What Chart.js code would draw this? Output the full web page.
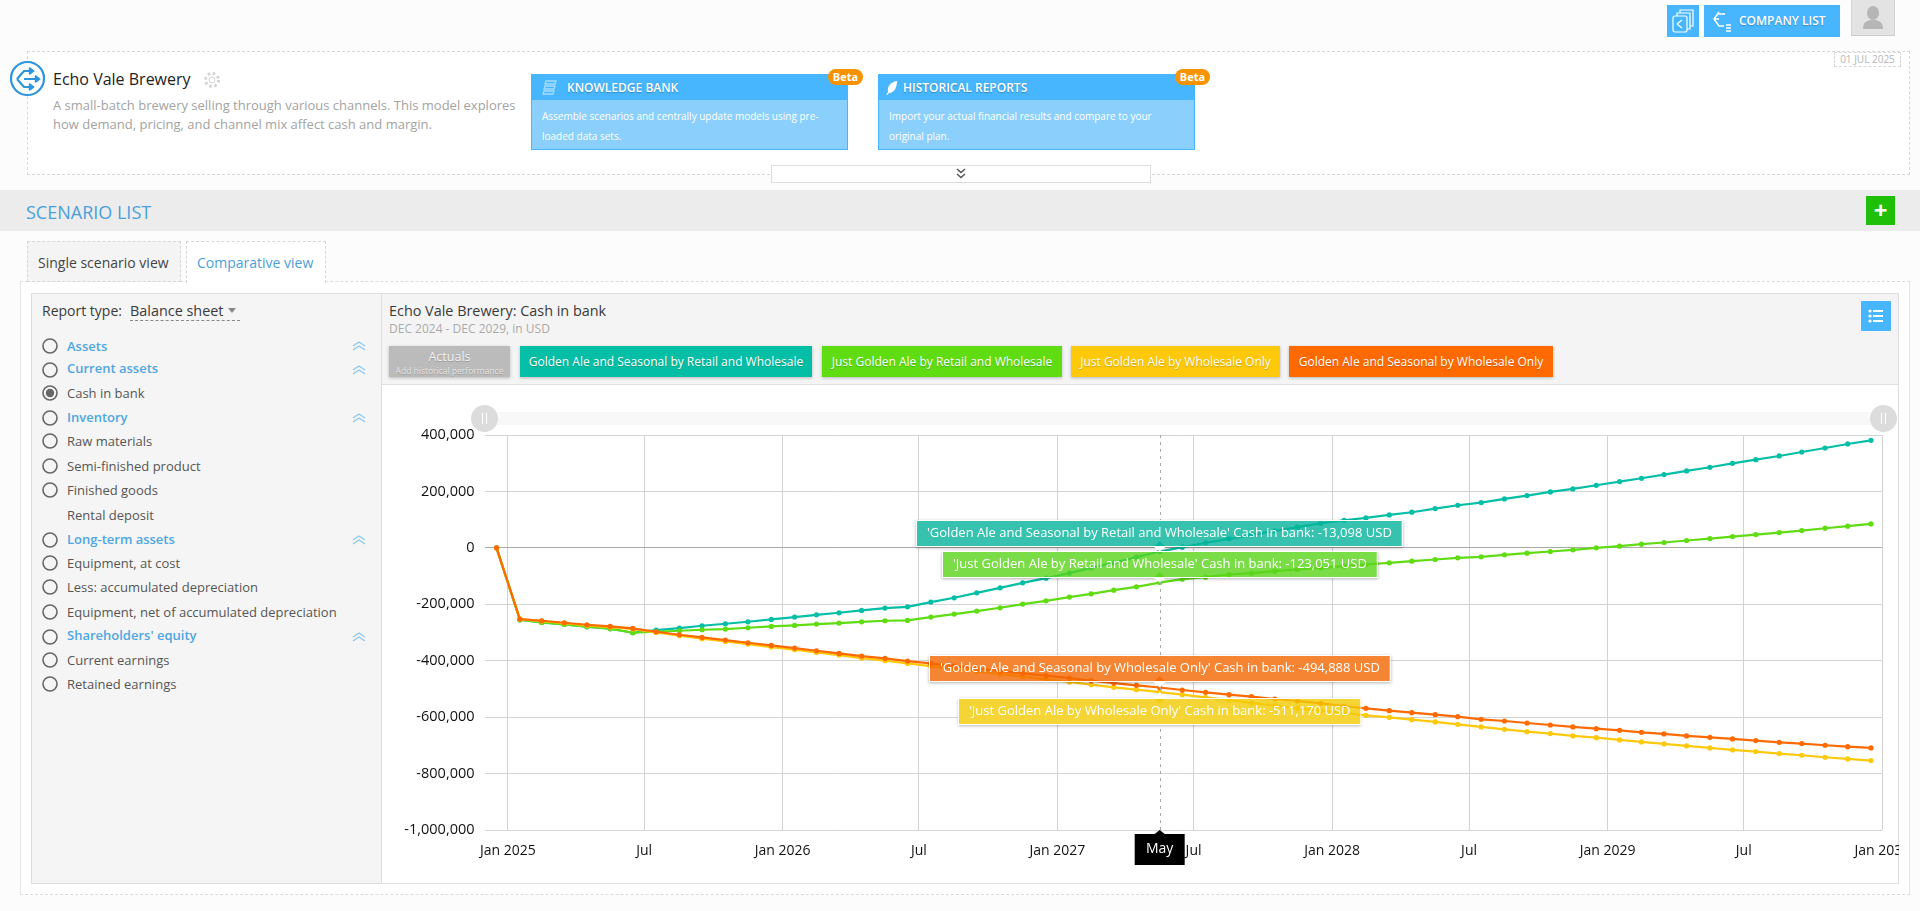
<!DOCTYPE html>
<html lang="en"><head><meta charset="utf-8"><title>Echo Vale Brewery: Cash in bank</title>
<script src="https://cdn.jsdelivr.net/npm/chart.js@4"></script>
<style>
html,body{margin:0;padding:0;width:1920px;height:911px;overflow:hidden;background:#fcfcfc;font-family:"Open Sans",sans-serif;color:#444}
.a{position:absolute;box-sizing:border-box;white-space:nowrap}
.t{position:absolute;white-space:nowrap}
.shadow{text-shadow:0 1px 1px rgba(0,0,0,.25)}
.lg{position:absolute;top:346px;height:31px;line-height:31px;color:#fff;font-size:12px;text-align:center;box-shadow:0 1px 3px rgba(0,0,0,.25);text-shadow:0 1px 1px rgba(0,0,0,.2)}
svg{position:absolute;overflow:visible}
</style></head><body>
<!-- top bar -->
<div class="a" style="left:1667px;top:5px;width:32px;height:32px;background:#47b6ff"></div>
<svg style="left:1667px;top:5px" width="32" height="32" fill="none" stroke="#fff" stroke-width="1.2"><rect x="6" y="11" width="14" height="16" rx="2"/><path d="M10 11V8h13v16h-3M13 8V5h13v16h-3"/><path d="M10 19l5-4M10 19l5 4"/></svg>
<div class="a" style="left:1704px;top:5px;width:136px;height:32px;background:#47b6ff"></div>
<svg style="left:1710px;top:10px" width="24" height="24" fill="none" stroke="#fff" stroke-width="1.5"><path d="M9 2L4 9l5 7M4 9h5M8 4l7 0M9 16h5"/><path d="M16 15h5M16 18h5M16 21h5"/></svg>
<div class="t shadow" style="left:1739px;top:5px;line-height:32px;color:#fff;font-size:12px;font-weight:600">COMPANY LIST</div>
<div class="a" style="left:1851px;top:0;width:44px;height:36px;background:#e3e3e3;border-bottom:1px solid #ccc;border-right:1px solid #d4d4d4;border-left:1px solid #d4d4d4"></div>
<svg style="left:1851px;top:0" width="44" height="36" fill="#b6b6b6"><ellipse cx="22" cy="13" rx="6" ry="7"/><path d="M12 29c0-7 4-9 10-9s10 2 10 9z"/></svg>

<!-- header box -->
<div class="a" style="left:27px;top:51px;width:1883px;height:124px;background:#fff;border:1px dashed #d8d8d8"></div>
<div class="a" style="left:1834px;top:52px;width:67px;height:15px;border:1px dashed #d8d8d8;line-height:13px;font-size:10px;color:#b5b5b5;text-align:center">01 JUL 2025</div>
<svg style="left:9px;top:60px" width="38" height="38" fill="none" stroke="#2d95dd" stroke-width="2.2"><circle cx="18.500" cy="18.500" r="16.500" fill="#fff"/><path d="M8 19l7-8h5M8 19l7 8h5M15 19h12" /><path d="M20 8l4 3-4 3M20 24l4 3-4 3M26 16l4 3-4 3" fill="#2d95dd"/></svg>
<div class="t" style="left:53px;top:68px;line-height:22px;font-size:16px;color:#222">Echo Vale Brewery</div>
<svg style="left:203px;top:71px" width="18" height="18" fill="none" stroke="#d4d4d4"><circle cx="9" cy="9" r="3"/><circle cx="9" cy="9" r="6.500" stroke-width="3" stroke-dasharray="2.500 2.600"/></svg>
<div class="t" style="left:53px;top:96px;line-height:19px;font-size:13px;color:#a3a3a3">A small-batch brewery selling through various channels. This model explores<br>how demand, pricing, and channel mix affect cash and margin.</div>

<!-- cards -->
<div class="a" style="left:531px;top:74px;width:317px;height:76px;background:#8bd0fc;border:1px solid #47b6ff"><div class="a" style="left:0;top:0;width:315px;height:25px;background:#47b6ff"></div></div>
<svg style="left:541px;top:79px" width="16" height="18" fill="none" stroke="#a6dcff" stroke-width="1.3"><path d="M5 2h10l-1 3H4zM4 7h10l-1 3H3zM3 12h10l-1 3H2z"/></svg>
<div class="t shadow" style="left:567px;top:75px;line-height:26px;font-size:12px;font-weight:600;color:#fff">KNOWLEDGE BANK</div>
<div class="t" style="left:542px;top:106px;line-height:20px;font-size:10px;color:#fff">Assemble scenarios and centrally update models using pre-<br>loaded data sets.</div>
<div class="a" style="left:828px;top:69px;width:35px;height:16px;border-radius:8px;background:#f79200;line-height:15px;font-size:11px;font-weight:700;color:#fff;text-align:center">Beta</div>

<div class="a" style="left:878px;top:74px;width:317px;height:76px;background:#8bd0fc;border:1px solid #47b6ff"><div class="a" style="left:0;top:0;width:315px;height:25px;background:#47b6ff"></div></div>
<svg style="left:885px;top:80px" width="14" height="16" fill="#fff"><path d="M12 1C5 2 2 7 3 12L1 15l1 0 2-2c5 0 8-5 8-12z"/></svg>
<div class="t shadow" style="left:903px;top:75px;line-height:26px;font-size:12px;font-weight:600;color:#fff">HISTORICAL REPORTS</div>
<div class="t" style="left:889px;top:106px;line-height:20px;font-size:10px;color:#fff">Import your actual financial results and compare to your<br>original plan.</div>
<div class="a" style="left:1175px;top:69px;width:35px;height:16px;border-radius:8px;background:#f79200;line-height:15px;font-size:11px;font-weight:700;color:#fff;text-align:center">Beta</div>

<div class="a" style="left:771px;top:165px;width:380px;height:18px;background:#fff;border:1px solid #dcdcdc"></div>
<svg style="left:956px;top:168px" width="10" height="12" fill="none" stroke="#555" stroke-width="1.500"><path d="M1 1l4 3.500L9 1M1 6l4 3.500L9 6"/></svg>

<!-- scenario band -->
<div class="a" style="left:0;top:190px;width:1920px;height:41px;background:#ececec"></div>
<div class="t" style="left:26px;top:200px;line-height:24px;font-size:18px;color:#4a9fdc">SCENARIO LIST</div>
<div class="a" style="left:1866px;top:196px;width:29px;height:29px;background:#1fbf0a;color:#fff;font-weight:700;font-size:24px;line-height:28px;text-align:center">+</div>

<!-- tabs and outer panel -->
<div class="a" style="left:20px;top:281px;width:1890px;height:614px;background:#fff;border:1px dashed #dcdcdc;border-left:1px solid #e4e4e4;border-right:1px solid #e4e4e4"></div>
<div class="a" style="left:27px;top:241px;width:154px;height:41px;background:#f4f4f4;border:1px dashed #d8d8d8;line-height:41px;font-size:14px;color:#444;padding-left:10px">Single scenario view</div>
<div class="a" style="left:186px;top:241px;width:140px;height:42px;background:#fff;border:1px dashed #d8d8d8;border-bottom:0;line-height:41px;font-size:14px;color:#4a9fdc;padding-left:10px">Comparative view</div>

<!-- inner panel -->
<div class="a" style="left:31px;top:293px;width:1868px;height:591px;background:#fff;border:1px solid #dedede"></div>
<div class="a" style="left:32px;top:294px;width:350px;height:589px;background:#f5f5f5;border-right:1px solid #dedede"></div>
<div class="a" style="left:382px;top:294px;width:1516px;height:91px;background:#f4f4f4;border-bottom:1px solid #dedede"></div>
<div class="t" style="left:42px;top:301px;line-height:20px;font-size:14px;color:#3a3a3a">Report type:</div>
<div class="t" style="left:130px;top:301px;line-height:20px;font-size:14.400px;color:#3a3a3a">Balance sheet</div>
<svg style="left:228px;top:308px" width="9" height="6" fill="#888"><path d="M0 0h8L4 5z"/></svg>
<div class="a" style="left:130px;top:320px;width:110px;height:1px;border-top:1px dashed #888"></div>
<div id="side"></div>

<!-- chart header -->
<div class="t" style="left:389px;top:301px;line-height:20px;font-size:14.400px;color:#3a3a3a">Echo Vale Brewery: Cash in bank</div>
<div class="t" style="left:389px;top:320px;line-height:18px;font-size:12px;color:#aaa">DEC 2024 - DEC 2029, in USD</div>
<div class="lg" style="left:389px;width:121px;background:#bbb;line-height:13px">
<div style="font-size:12.500px;line-height:14px;margin-top:4px;color:#f2f2f2">Actuals</div><div style="font-size:8.500px;line-height:11px;color:#e6e6e6;margin-top:1px">Add historical performance</div></div>
<div class="lg" style="left:520px;width:292px;background:#04bfa5">Golden Ale and Seasonal by Retail and Wholesale</div>
<div class="lg" style="left:822px;width:240px;background:#5fdc12">Just Golden Ale by Retail and Wholesale</div>
<div class="lg" style="left:1071px;width:209px;background:#fdc90a">Just Golden Ale by Wholesale Only</div>
<div class="lg" style="left:1289px;width:264px;background:#ff6a00">Golden Ale and Seasonal by Wholesale Only</div>
<div class="a" style="left:1861px;top:301px;width:30px;height:30px;background:#47b6ff;border-radius:1px"></div>
<svg style="left:1868px;top:309px" width="16" height="14" fill="#fff"><circle cx="2" cy="2" r="1.600"/><circle cx="2" cy="7" r="1.600"/><circle cx="2" cy="12" r="1.600"/><rect x="5" y="1" width="10" height="2"/><rect x="5" y="6" width="10" height="2"/><rect x="5" y="11" width="10" height="2"/></svg>

<!-- chart canvas -->
<div class="a" style="left:383px;top:385px;width:1516px;height:498px;overflow:hidden"><canvas id="chart" width="1516" height="498" style="display:block;width:1516px;height:498px"></canvas></div>

<!-- range slider -->
<div class="a" style="left:484px;top:412px;width:1399px;height:13px;background:#f8f8f8"></div>
<div class="a" style="left:471px;top:405px;width:27px;height:27px;border-radius:50%;background:#dcdcdc"></div>
<svg style="left:471px;top:405px" width="27" height="27" stroke="#fff"><path d="M11.500 8v11M15.500 8v11"/></svg>
<div class="a" style="left:1870px;top:405px;width:27px;height:27px;border-radius:50%;background:#dcdcdc"></div>
<svg style="left:1870px;top:405px" width="27" height="27" stroke="#fff"><path d="M11.500 8v11M15.500 8v11"/></svg>

<script>
// ---------- chart data ----------
const categories = [
"2024-12-17",
"2025-01-17","2025-02-15","2025-03-17","2025-04-16","2025-05-17","2025-06-16","2025-07-17","2025-08-17","2025-09-16","2025-10-17","2025-11-16","2025-12-17",
"2026-01-17","2026-02-15","2026-03-17","2026-04-16","2026-05-17","2026-06-16","2026-07-17","2026-08-17","2026-09-16","2026-10-17","2026-11-16","2026-12-17",
"2027-01-17","2027-02-15","2027-03-17","2027-04-16","2027-05-17","2027-06-16","2027-07-17","2027-08-17","2027-09-16","2027-10-17","2027-11-16","2027-12-17",
"2028-01-17","2028-02-15","2028-03-17","2028-04-16","2028-05-17","2028-06-16","2028-07-17","2028-08-17","2028-09-16","2028-10-17","2028-11-16","2028-12-17",
"2029-01-17","2029-02-15","2029-03-17","2029-04-16","2029-05-17","2029-06-16","2029-07-17","2029-08-17","2029-09-16","2029-10-17","2029-11-16","2029-12-17"];

const seasonalRetail = [0,-254900,-264300,-271400,-279700,-286700,-300900,-291500,-284400,-276100,-269000,-262000,-253700,-245400,-237200,-230100,-221800,-213600,-208900,-192300,-177000,-159300,-141600,-123900,-107400,-89700,-70800,-53100,-33000,-13098,2400,17700,31900,46000,60200,73200,87300,97900,106200,116800,126300,139200,151000,160500,173500,185300,198200,208900,221800,234800,246600,259600,272600,285600,299700,312700,325700,339800,354000,368200,381100];
const goldenRetail = [0,-254900,-264300,-271400,-279700,-286700,-300900,-297400,-293800,-290300,-287900,-283200,-278500,-274900,-270200,-266700,-262000,-258400,-257200,-245400,-234800,-224200,-212400,-199400,-187600,-174600,-162800,-149900,-138100,-123051,-110900,-103800,-94400,-89700,-82600,-76700,-70800,-64900,-59000,-53100,-47200,-41300,-35400,-31900,-24800,-18900,-13000,-7100,100,5900,13000,18900,26000,33000,40100,47200,54300,61400,69600,76700,85000];
const goldenWholesale = [0,-252500,-259600,-266700,-274900,-280800,-287900,-299700,-311500,-322100,-331600,-341000,-351600,-361100,-370500,-380000,-390600,-400000,-409500,-418900,-428300,-437800,-447200,-456700,-466100,-475500,-485000,-494400,-502700,-511170,-520400,-529800,-539300,-549900,-559300,-568800,-577000,-585300,-593500,-600600,-608900,-617100,-625400,-634800,-643100,-651400,-658400,-666700,-672600,-680900,-687900,-695000,-702100,-709200,-716300,-722200,-729200,-735100,-742200,-748100,-754000];
const seasonalWholesale = [0,-252500,-258400,-265500,-272600,-278500,-285600,-297400,-308000,-317400,-326900,-336300,-345700,-355200,-364600,-374000,-383500,-391800,-401200,-409500,-418900,-427200,-436600,-444900,-453100,-461400,-470800,-479100,-487300,-494888,-503900,-512100,-520400,-527500,-535700,-542800,-551100,-560500,-568800,-577000,-584100,-591200,-598300,-607700,-613600,-620700,-627800,-634800,-640700,-646600,-653700,-659600,-666700,-671400,-677300,-683200,-689100,-693800,-699700,-704500,-709200];

const xTickDates = ["2025-01-01","2025-07-01","2026-01-01","2026-07-01","2027-01-01","2027-07-01","2028-01-01","2028-07-01","2029-01-01","2029-07-01","2030-01-01"];
const xTickLabels = ["Jan 2025","Jul","Jan 2026","Jul","Jan 2027","Jul","Jan 2028","Jul","Jan 2029","Jul","Jan 2030"];
const xStart = "2024-12-01";
const hoverDate = "2027-05-17";
const hoverLabel = "May";

const seriesNames = {
  teal:"Golden Ale and Seasonal by Retail and Wholesale",
  green:"Just Golden Ale by Retail and Wholesale",
  yellow:"Just Golden Ale by Wholesale Only",
  orange:"Golden Ale and Seasonal by Wholesale Only"};
const metricName = "Cash in bank";
const currency = "USD";

// ---------- sidebar ----------
const sideRows = [
 ["Assets",346.4,"head",336],["Current assets",369.7,"head",358],["Cash in bank",393,"on"],["Inventory",417.6,"head",407],
 ["Raw materials",441.4,""],["Semi-finished product",466,""],["Finished goods",490,""],["Rental deposit",515.4,"none"],
 ["Long-term assets",539.6,"head",529],["Equipment, at cost",563.3,""],["Less: accumulated depreciation",587,""],
 ["Equipment, net of accumulated depreciation",612,""],["Shareholders' equity",636.5,"head",625],["Current earnings",660.3,""],["Retained earnings",684,""]];
let sh="";
for(const [label,y,kind,top] of sideRows){
  const c=kind==="head"?"#4ea6e2":"#555", w=kind==="head"?600:400, ty=kind==="head"?top:y-10;
  sh+=`<div class="t" style="left:67px;top:${ty}px;line-height:20px;font-size:13px;color:${c};font-weight:${w}">${label}</div>`;
  if(kind!=="none") sh+=`<svg style="left:42px;top:${y-8}px" width="16" height="16" fill="none"><circle cx="8" cy="8" r="7" stroke="#666" stroke-width="1.6"/>${kind==="on"?'<circle cx="8" cy="8" r="4.2" fill="#666"/>':''}</svg>`;
  if(kind==="head") sh+=`<svg style="left:352px;top:${y-5}px" width="14" height="10" fill="none" stroke="#8cc6ef" stroke-width="1.2"><path d="M1 5l6-4 6 4M1 9l6-4 6 4"/></svg>`;
}
document.getElementById("side").innerHTML=sh;

// ---------- chart ----------
const dayOf = s => (Date.parse(s+"T00:00:00Z")-Date.UTC(2025,0,1))/864e5;
const pts = vals => vals.map((v,i)=>({x:dayOf(categories[i]),y:v}));
const xTicks = xTickDates.map(dayOf);
const line = (name,color,vals)=>({label:name,data:pts(vals),borderColor:color,backgroundColor:color,pointBackgroundColor:color,pointBorderColor:color,
  borderWidth:2.2,pointRadius:2.6,pointBorderWidth:0,tension:0});

const hoverPlugin = {
  id:"hoverOverlay",
  afterDatasetsDraw(chart){
    const {ctx,scales:{x,y},chartArea:a}=chart;
    const hi=categories.indexOf(hoverDate), px=x.getPixelForValue(dayOf(hoverDate));
    ctx.save();
    ctx.strokeStyle="#a8a8a8";ctx.lineWidth=1;ctx.setLineDash([3,4]);
    ctx.beginPath();ctx.moveTo(Math.round(px)+.5,a.top);ctx.lineTo(Math.round(px)+.5,a.bottom);ctx.stroke();ctx.setLineDash([]);
    ctx.font='13px "Open Sans"';ctx.textAlign="center";ctx.textBaseline="middle";
    const tips=[
      [seriesNames.teal,seasonalRetail,"rgba(4,179,154,.8)",-1],
      [seriesNames.green,goldenRetail,"rgba(89,211,25,.8)",-1],
      [seriesNames.orange,seasonalWholesale,"rgba(243,103,0,.8)",-1],
      [seriesNames.yellow,goldenWholesale,"rgba(243,203,3,.8)",1]];
    for(const [name,vals,fill,dir] of tips){
      const v=vals[hi],py=y.getPixelForValue(v);
      const text=`'${name}' ${metricName}: ${v.toLocaleString("en-US")} ${currency}`;
      const w=ctx.measureText(text).width+20,h=25;
      const bx=Math.round(px-w/2), by=dir<0?Math.round(py-6-h):Math.round(py+7);
      const edge=dir<0?by+h:by;
      ctx.save();
      ctx.shadowColor="rgba(0,0,0,.3)";ctx.shadowBlur=3;ctx.shadowOffsetY=1;
      ctx.fillStyle="#fff";ctx.fillRect(bx-1,by-1,w+2,h+2);
      ctx.restore();
      // redraw what lies under the translucent box
      ctx.save();ctx.beginPath();ctx.rect(bx,by,w,h);ctx.clip();
      ctx.fillStyle="#fff";ctx.fillRect(bx,by,w,h);
      chart.getSortedVisibleDatasetMetas().slice().reverse().forEach(m=>m.controller.draw());
      ctx.fillStyle=fill;ctx.fillRect(bx,by,w,h);
      ctx.restore();
      // caret
      ctx.fillStyle="#fff";ctx.beginPath();ctx.moveTo(px-7,edge);ctx.lineTo(px+7,edge);ctx.lineTo(px,py);ctx.closePath();ctx.fill();
      ctx.fillStyle=fill;ctx.beginPath();ctx.moveTo(px-5,edge);ctx.lineTo(px+5,edge);ctx.lineTo(px,edge-dir*-5);ctx.closePath();ctx.fill();
      ctx.fillStyle="#fff";ctx.fillText(text,bx+w/2,by+h/2);
    }
    // axis flag
    const fw=50,fy=a.bottom+4,fh=31;
    ctx.fillStyle="#000";ctx.fillRect(px-fw/2,fy,fw,fh);
    ctx.beginPath();ctx.moveTo(px-5,fy);ctx.lineTo(px+5,fy);ctx.lineTo(px,fy-4);ctx.closePath();ctx.fill();
    ctx.fillStyle="#fff";ctx.font='14px "Open Sans"';ctx.fillText(hoverLabel,px,fy+fh/2);
    ctx.restore();
  }
};

Chart.defaults.font.family='"Open Sans", sans-serif';
new Chart(document.getElementById("chart"),{
  type:"line",
  data:{datasets:[
    line(seriesNames.orange,"#ff6a00",seasonalWholesale),
    line(seriesNames.yellow,"#fdc90a",goldenWholesale),
    line(seriesNames.green,"#5fdc12",goldenRetail),
    line(seriesNames.teal,"#04bfa5",seasonalRetail)]},
  options:{
    responsive:false,animation:false,devicePixelRatio:1,
    layout:{padding:{top:50,right:16.7,left:0,bottom:0}},
    plugins:{legend:{display:false},tooltip:{enabled:false},title:{display:false}},
    scales:{
      x:{type:"linear",min:dayOf(xStart),max:dayOf(xTickDates[xTickDates.length-1]),
        afterBuildTicks:s=>{s.ticks=xTicks.map(v=>({value:v}));},
        afterFit:s=>{s.paddingLeft=0;s.paddingRight=0;s.height=53;},
        grid:{color:"#d2d2d2",lineWidth:1,drawTicks:false},border:{display:false},
        ticks:{autoSkip:false,maxRotation:0,minRotation:0,padding:13,color:"#111",font:{size:14},
          stepSize:365,callback:(v,i)=>xTickLabels[i]}},
      y:{min:-1000000,max:400000,
        afterFit:s=>{s.width=101.5;s.paddingTop=0;s.paddingBottom=0;},
        grid:{drawTicks:false,lineWidth:1,color:c=>c.tick&&c.tick.value===0?"#a9a9a9":"#d4d4d4"},border:{display:false},
        ticks:{stepSize:200000,padding:10,color:"#111",font:{size:14.5},callback:v=>Number(v).toLocaleString("en-US")}}
    }
  },
  plugins:[hoverPlugin]
});
</script>
</body></html>
